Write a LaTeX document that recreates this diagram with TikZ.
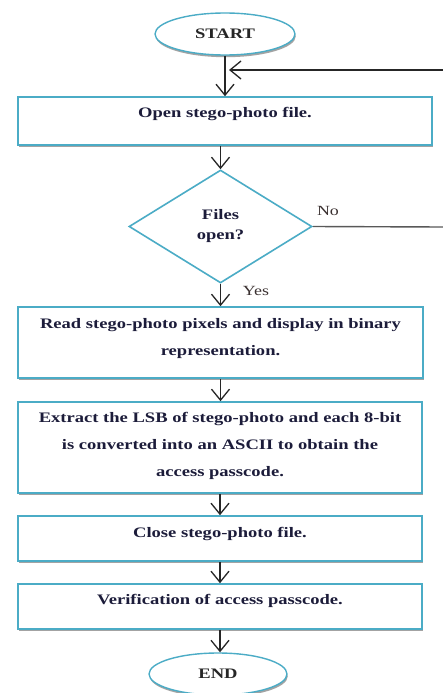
\documentclass[tikz,border=0pt]{standalone}
\usepackage{fontspec}
\setmainfont{Liberation Serif}
\newfontfamily\flowfont[FakeStretch=1.28]{Liberation Serif}
\usetikzlibrary{shapes.geometric,arrows.meta,shadows}

\definecolor{edge}{HTML}{4BACC6}
\definecolor{ink}{HTML}{1C1C3A}
\definecolor{noink}{HTML}{3A3030}

\begin{document}
\begin{tikzpicture}[x=1pt,y=-1pt,
  softshadow/.style={drop shadow={shadow xshift=0.8pt,shadow yshift=-2.2pt,fill=black!45,opacity=0.8}},
  procbox/.style={draw=edge,line width=1.6pt,fill=white,inner sep=0pt,softshadow},
  boxtext/.style={font=\flowfont\bfseries\fontsize{14.5}{27}\selectfont,text=ink,align=center,inner sep=0pt,anchor=north},
  terminal/.style={ellipse,draw=edge,line width=1.4pt,fill=white,inner sep=0pt,
    minimum width=140pt,minimum height=42pt,softshadow,
    font=\flowfont\bfseries\fontsize{14.5}{17}\selectfont,text=black!85},
  decision/.style={diamond,draw=edge,line width=1.6pt,fill=white,inner sep=0pt,
    minimum width=183pt,minimum height=113pt,align=center,
    font=\flowfont\bfseries\fontsize{14.5}{20}\selectfont,text=ink},
  arr/.style={-{Straight Barb[length=11pt,width=18pt,line width=1.3pt]},line width=1.3pt,draw=black!85},
  noline/.style={line width=1.4pt,draw=black!65},
  lbl/.style={font=\flowfont\fontsize{14}{16}\selectfont,text=noink,inner sep=0pt}]

% page
\useasboundingbox (0,0) rectangle (443,693);
\fill[white] (0,0) rectangle (443,693);

% terminals, steps and the decision
\node[terminal] (start) at (225,34) {START};
\node[procbox,minimum width=414pt,minimum height=48pt] (b1) at (225,121) {};
\node[boxtext] (t1) at ([yshift=-11pt]b1.north) {Open stego-photo file.};
\node[decision] (dia) at (220.5,226.5) {Files\\open?};
\node[procbox,minimum width=405pt,minimum height=71pt] (b2) at (220.5,342.5) {};
\node[boxtext] (t2) at ([yshift=-12pt]b2.north) {Read stego-photo pixels and display in binary\\representation.};
\node[procbox,minimum width=404pt,minimum height=91pt] (b3) at (220,447.5) {};
\node[boxtext] (t3) at ([yshift=-11pt]b3.north) {Extract the LSB of stego-photo and each 8-bit\\is converted into an ASCII to obtain the\\access passcode.};
\node[procbox,minimum width=404pt,minimum height=45pt] (b4) at (220,538.5) {};
\node[boxtext] (t4) at ([yshift=-12pt]b4.north) {Close stego-photo file.};
\node[procbox,minimum width=404pt,minimum height=45pt] (b5) at (220,606.5) {};
\node[boxtext] (t5) at ([yshift=-11pt]b5.north) {Verification of access passcode.};
\node[terminal,minimum width=138pt] (end) at (218,674) {END};

% branch labels
\node[lbl] (nolbl) at (328,211) {No};
\node[lbl] (yeslbl) at (256,291) {Yes};

% main flow
\draw[arr] (start.south) -- (start.south |- b1.north);
\draw[arr] (dia.north |- b1.south) -- (dia.north);
\draw[arr] (dia.south) -- (dia.south |- b2.north);
\draw[arr] (b2.south) -- (b2.south |- b3.north);
\draw[arr] (b3.south) -- (b3.south |- b4.north);
\draw[arr] (b4.south) -- (b4.south |- b5.north);
\draw[arr] (b5.south) -- (b5.south |- end.north);

% loop back when the file does not open
\coordinate (noout) at (443,227);
\coordinate (fbin) at (443,70);
\coordinate (fbtip) at (229,70);
\draw[noline] (dia.east) -- (noout);
\draw[arr] (fbin) -- (fbtip);
\end{tikzpicture}
\end{document}
